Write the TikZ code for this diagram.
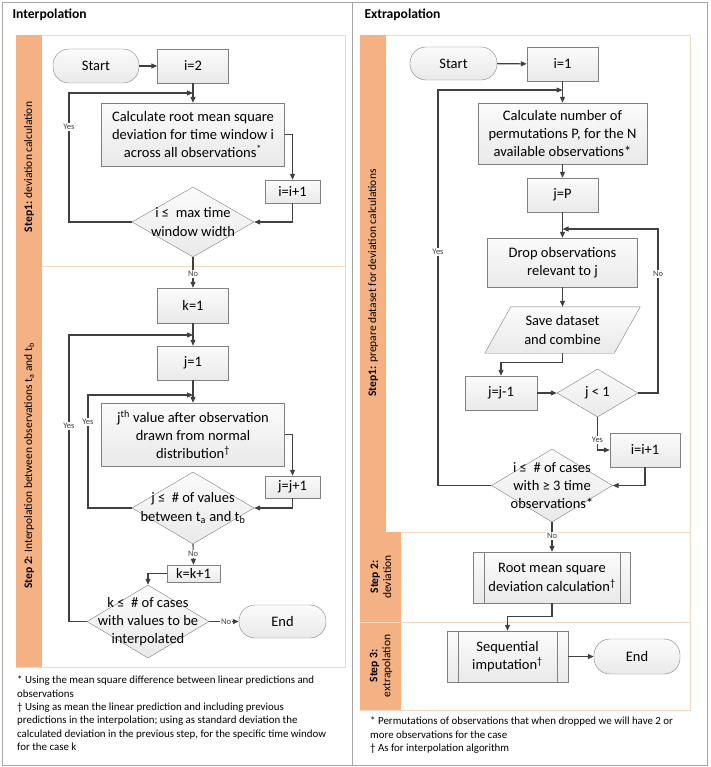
\documentclass[tikz,border=0pt]{standalone}
\usepackage{fontspec}
\setmainfont{Carlito}
\usetikzlibrary{arrows.meta,shapes.geometric}

\definecolor{laneorange}{HTML}{F4B183}
\definecolor{laneline}{HTML}{F8D5BD}
\definecolor{framegray}{HTML}{A6A6A6}
\definecolor{boxline}{HTML}{808080}
\definecolor{arrowgray}{HTML}{404040}

\newcommand{\nodefont}{\fontsize{14.5}{18.3}\selectfont}

\begin{document}
\begin{tikzpicture}[x=1pt,y=-1pt,
    box/.style={draw=boxline, top color=gray!3, bottom color=gray!17, inner sep=0pt, align=center, font=\nodefont},
    term/.style={box, rounded corners=16pt},
    decision/.style={diamond, draw=boxline, top color=gray!3, bottom color=gray!17, inner sep=0pt},
    dtext/.style={align=center, font=\nodefont},
    arr/.style={draw=arrowgray, line width=1.1pt, -{Triangle[length=6pt,width=5pt]}},
    lbl/.style={font=\fontsize{8.5}{9}\selectfont, fill=white, inner sep=1pt, text=arrowgray},
    lanetext/.style={rotate=90, align=center, font=\fontsize{11.5}{13}\selectfont},
    note/.style={anchor=north west, align=left, inner sep=0pt, font=\fontsize{10.9}{13.3}\selectfont}]
\useasboundingbox (0,0) rectangle (710,767);

% frame
\draw[framegray] (2,2) rectangle (707,765);
\draw[framegray] (352,2) -- (352,765);
\node[anchor=west, font=\fontsize{13.6}{15}\selectfont\bfseries] (headinter) at (9,15) {Interpolation};
\node[anchor=west, font=\fontsize{13.6}{15}\selectfont\bfseries] (headextra) at (361,15) {Extrapolation};

% lanes, interpolation
\draw[laneline, fill=white] (16,35) rectangle (345,667);
\fill[laneorange] (16,35) rectangle (42,667);
\draw[laneline] (42,266) -- (345,266);
\node[lanetext] (laneone) at (29,167) {\textbf{Step1:} deviation calculation};
\node[lanetext] (lanetwo) at (29,466) {\textbf{Step 2:} Interpolation between observations t\textsubscript{a} and t\textsubscript{b}};

% lanes, extrapolation
\draw[laneline, fill=white] (360,35) rectangle (690,710);
\fill[laneorange] (360,35) rectangle (386,532);
\fill[laneorange] (360,532) rectangle (401,710);
\draw[laneline] (401,532) -- (690,532);
\draw[laneline] (360,622) -- (690,622);
\node[lanetext] (laneprep) at (373,283) {\textbf{Step1:} prepare dataset for deviation calculations};
\node[lanetext] (lanedev) at (381,577) {\textbf{Step 2:}\\deviation};
\node[lanetext] (laneext) at (381,666) {\textbf{Step 3:}\\extrapolation};

% interpolation nodes
\node[term, minimum width=86, minimum height=34] (start1) at (96,66) {Start};
\node[box, minimum width=71, minimum height=34] (i2) at (193,66) {i=2};
\node[box, minimum width=183, minimum height=63] (calc1) at (193,134.5) {Calculate root mean square\\deviation for time window i\\across all observations\textsuperscript{*}};
\node[box, minimum width=55, minimum height=23] (inc1) at (292.5,191.5) {i=i+1};
\node[decision, minimum width=122, minimum height=70, label={[dtext]center:i ≤\ \ max time\\window width}] (d1) at (193,222) {};
\node[box, minimum width=71, minimum height=35] (k1) at (193,305.5) {k=1};
\node[box, minimum width=71, minimum height=34] (j1) at (193,363) {j=1};
\node[box, minimum width=183, minimum height=63] (jth) at (193,434.5) {j\textsuperscript{th} value after observation\\drawn from normal\\distribution\textsuperscript{†}};
\node[box, minimum width=55, minimum height=22] (inc2) at (292.5,487) {j=j+1};
\node[decision, minimum width=122, minimum height=72, label={[dtext]center:j ≤\ \ \# of values\\between t\textsubscript{a} and t\textsubscript{b}}] (d2) at (193,508) {};
\node[box, minimum width=53, minimum height=17] (kk) at (193.5,573.5) {k=k+1};
\node[decision, minimum width=122, minimum height=73, label={[dtext]center:k ≤\ \ \# of cases\\with values to be\\interpolated}] (d3) at (148,621.5) {};
\node[term, minimum width=87, minimum height=33] (end1) at (282.5,621.5) {End};

\coordinate (y1) at (69,93);
\coordinate (loop1) at (193,93);
\coordinate (y2) at (88,395);
\coordinate (loop2) at (193,395);
\coordinate (y3) at (69,335);
\coordinate (loop3) at (193,335);

\draw[arr] (start1) -- (i2);
\draw[arr] (i2) -- (calc1);
\draw[arr] (calc1.east) -| (inc1.north);
\draw[arr] (inc1.south) |- (d1.east);
\draw[arr] (d1.west) -| (y1) -- (loop1);
\draw[arr] (d1.south) -- (k1.north);
\draw[arr] (k1) -- (j1);
\draw[arr] (j1) -- (jth);
\draw[arr] (jth.east) -| (inc2.north);
\draw[arr] (inc2.south) |- (d2.east);
\draw[arr] (d2.west) -| (y2) -- (loop2);
\draw[arr] (d2.south) -- (kk.north);
\draw[arr] (kk.west) -| (d3.north);
\draw[arr] (d3.east) -- (end1.west);
\draw[arr] (d3.west) -| (y3) -- (loop3);

\node[lbl] (yesa) at (69,127) {Yes};
\node[lbl] (noa) at (193,274) {No};
\node[lbl] (yesb) at (88,422) {Yes};
\node[lbl] (yesc) at (69,426) {Yes};
\node[lbl] (nob) at (193,554) {No};
\node[lbl] (noc) at (226,621.5) {No};

% extrapolation nodes
\node[term, minimum width=87, minimum height=33] (start2) at (453.5,63.5) {Start};
\node[box, minimum width=71, minimum height=34] (i1) at (562.5,64) {i=1};
\node[box, minimum width=169, minimum height=61] (calc2) at (562.5,133.5) {Calculate number of\\permutations P, for the N\\available observations*};
\node[box, minimum width=71, minimum height=34] (jP) at (562.5,195) {j=P};
\node[box, minimum width=150, minimum height=49] (drop) at (562.5,262.5) {Drop observations\\relevant to j};
\node[minimum width=129, minimum height=46, inner sep=0pt, align=center, font=\nodefont] (save) at (562.5,330) {};
\path[draw=boxline, top color=gray!3, bottom color=gray!17] ([xshift=13]save.north west) -- ([xshift=13]save.north east) -- ([xshift=-13]save.south east) -- ([xshift=-13]save.south west) -- cycle;
\node[dtext] (savetext) at (save) {Save dataset\\and combine};
\node[box, minimum width=72, minimum height=34] (jm1) at (501,393) {j=j-1};
\node[decision, minimum width=81, minimum height=48, label={[dtext]center:j < 1}] (d4) at (597.5,393) {};
\node[box, minimum width=70, minimum height=34] (inc3) at (645,450) {i=i+1};
\node[decision, minimum width=121, minimum height=73, label={[dtext]center:i ≤\ \ \# of cases\\with ≥ 3 time\\observations*}] (d5) at (552,485.5) {};
\node[box, minimum width=157, minimum height=51] (rms) at (552,577.5) {Root mean square\\deviation calculation\textsuperscript{†}};
\draw[boxline] ([xshift=11]rms.north west) -- ([xshift=11]rms.south west);
\draw[boxline] ([xshift=-11]rms.north east) -- ([xshift=-11]rms.south east);
\node[box, minimum width=121, minimum height=51] (seq) at (507.5,656.5) {Sequential\\imputation\textsuperscript{†}};
\draw[boxline] ([xshift=11]seq.north west) -- ([xshift=11]seq.south west);
\draw[boxline] ([xshift=-11]seq.north east) -- ([xshift=-11]seq.south east);
\node[term, minimum width=86, minimum height=35] (end2) at (637,656.5) {End};

\coordinate (y5) at (438,90);
\coordinate (loopc) at (562.5,90);
\coordinate (n4) at (658,229);
\coordinate (loopp) at (562.5,229);

\draw[arr] (start2) -- (i1);
\draw[arr] (i1) -- (calc2);
\draw[arr] (calc2) -- (jP);
\draw[arr] (jP) -- (drop);
\draw[arr] (drop) -- (save);
\draw[arr] (save.south) -- ++(0,9) -| (jm1.north);
\draw[arr] (jm1) -- (d4);
\draw[arr] (d4.east) -| (n4) -- (loopp);
\draw[arr] (d4.south) |- (inc3.west);
\draw[arr] (inc3.south) |- (d5.east);
\draw[arr] (d5.west) -| (y5) -- (loopc);
\draw[arr] (d5.south) -- (rms.north);
\draw[arr] (rms.south) -- ++(0,13) -| (seq.north);
\draw[arr] (seq) -- (end2);

\node[lbl] (yesd) at (438,252) {Yes};
\node[lbl] (nod) at (658,274) {No};
\node[lbl] (yese) at (597.5,440) {Yes};
\node[lbl] (noe) at (552,536) {No};

% footnotes
\node[note] (noteinter) at (17,676) {* Using the mean square difference between linear predictions and\\observations\\† Using as mean the linear prediction and including previous\\predictions in the interpolation; using as standard deviation the\\calculated deviation in the previous step, for the specific time window\\for the case k};
\node[note] (noteextra) at (370,717) {* Permutations of observations that when dropped we will have 2 or\\more observations for the case\\† As for interpolation algorithm};
\end{tikzpicture}
\end{document}
